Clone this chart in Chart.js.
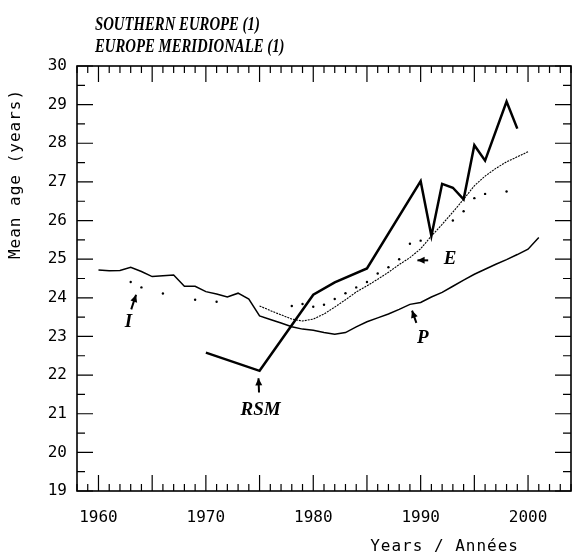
<!DOCTYPE html>
<html>
<head>
<meta charset="utf-8">
<script src="https://cdn.jsdelivr.net/npm/chart.js@4/dist/chart.umd.min.js"></script>
<style>
html, body { margin: 0; padding: 0; background: #fff; }
canvas { display: block; }
</style>
</head>
<body>
<canvas id="grafico" width="575" height="554"></canvas>
<script>
// Titolo e testi degli assi
const titolo = ["SOUTHERN EUROPE (1)", "EUROPE MERIDIONALE (1)"];
const titoloAsseY = "Mean age (years)";
const titoloAsseX = "Years / Années";
const etichetteX = [1960, 1970, 1980, 1990, 2000];

// P
const pAnni = [1960, 1961, 1962, 1963, 1964, 1965, 1966, 1967, 1968, 1969,
    1970, 1971, 1972, 1973, 1974, 1975, 1976, 1977, 1978, 1979,
    1980, 1981, 1982, 1983, 1984, 1985, 1986, 1987, 1988, 1989,
    1990, 1991, 1992, 1993, 1994, 1995, 1996, 1997, 1998, 1999,
    2000, 2001];
const pValori = [24.72, 24.70, 24.71, 24.79, 24.68, 24.55, 24.57, 24.59, 24.30, 24.30,
    24.16, 24.10, 24.02, 24.12, 23.97, 23.53, 23.44, 23.35, 23.25, 23.19,
    23.16, 23.10, 23.06, 23.10, 23.25, 23.38, 23.48, 23.58, 23.70, 23.83,
    23.88, 24.02, 24.14, 24.30, 24.46, 24.61, 24.74, 24.87, 24.99, 25.12,
    25.26, 25.56];

// E
const eAnni = [1975, 1976, 1977, 1978, 1979, 1980, 1981, 1982, 1983, 1984,
    1985, 1986, 1987, 1988, 1989, 1990, 1991, 1992, 1993, 1994,
    1995, 1996, 1997, 1998, 1999, 2000];
const eValori = [23.79, 23.67, 23.56, 23.45, 23.40, 23.45, 23.58, 23.76, 23.95, 24.15,
    24.31, 24.48, 24.66, 24.86, 25.04, 25.27, 25.60, 25.90, 26.22, 26.55,
    26.90, 27.15, 27.35, 27.52, 27.65, 27.78];

// I (punteggiata)
const iAnni = [1963, 1964, 1966, 1969, 1971, 1978, 1979, 1980, 1981, 1982,
    1983, 1984, 1985, 1986, 1987, 1988, 1989, 1990, 1993, 1994,
    1995, 1996, 1998];
const iValori = [24.41, 24.27, 24.11, 23.95, 23.90, 23.79, 23.84, 23.77, 23.82, 23.97,
    24.12, 24.27, 24.41, 24.63, 24.79, 25.00, 25.40, 25.48, 26.00, 26.24,
    26.58, 26.69, 26.75];

// RSM
const rsmAnni = [1970, 1975, 1980, 1982, 1985, 1990, 1991, 1992, 1993, 1994,
    1995, 1996, 1998, 1999];
const rsmValori = [22.58, 22.11, 24.08, 24.40, 24.76, 27.02, 25.60, 26.95, 26.85, 26.55,
    27.95, 27.55, 29.08, 28.38];

const punti = (anni, valori) => anni.map((a, i) => ({ x: a, y: valori[i] }));

// Etichette delle serie con la loro freccetta (coordinate nei valori degli assi)
const etichette = [
    { testo: "I", pos: [1962.8, 23.36], punta: [1963.5, 24.08], coda: [1963.05, 23.70] },
    { testo: "RSM", pos: [1975.1, 21.09], punta: [1974.9, 21.92], coda: [1974.95, 21.55] },
    { testo: "E", pos: [1992.75, 25.0], punta: [1989.7, 24.97], coda: [1990.7, 24.97] },
    { testo: "P", pos: [1990.2, 22.95], punta: [1989.2, 23.67], coda: [1989.6, 23.35] }
];

// Cornice con le tacche rivolte verso l'interno, su tutti e quattro i lati
const cornice = {
    id: "cornice",
    afterDraw(chart) {
        const { ctx, chartArea: { left, right, top, bottom }, scales: { x, y } } = chart;
        ctx.save();
        ctx.strokeStyle = "#000";
        ctx.lineWidth = 1.6;
        ctx.strokeRect(left, top, right - left, bottom - top);
        ctx.lineWidth = 1.2;
        ctx.beginPath();
        for (let a = 1958; a <= 2004; a++) {
            const px = x.getPixelForValue(a);
            const lung = a % 5 === 0 ? 16 : 7;
            ctx.moveTo(px, bottom); ctx.lineTo(px, bottom - lung);
            ctx.moveTo(px, top); ctx.lineTo(px, top + lung);
        }
        for (let v = 19; v <= 30; v += 0.5) {
            const py = y.getPixelForValue(v);
            const lung = Number.isInteger(v) ? 16 : 8;
            ctx.moveTo(left, py); ctx.lineTo(left + lung, py);
            ctx.moveTo(right, py); ctx.lineTo(right - lung, py);
        }
        ctx.stroke();

        // titolo, un po' stretto come nell'originale
        ctx.fillStyle = "#000";
        ctx.font = "italic bold 18px 'Liberation Serif'";
        ctx.textBaseline = "alphabetic";
        ctx.textAlign = "left";
        ctx.save();
        ctx.translate(95, 0);
        ctx.scale(0.82, 1);
        ctx.fillText(titolo[0], 0, 30);
        ctx.fillText(titolo[1], 0, 52);
        ctx.restore();

        ctx.font = "16px 'DejaVu Sans Mono'";
        ctx.letterSpacing = "1px";
        ctx.textAlign = "right";
        ctx.textBaseline = "middle";
        ctx.fillText(titoloAsseX, 519, 547);

        ctx.save();
        ctx.translate(16, 174);
        ctx.rotate(-Math.PI / 2);
        ctx.textAlign = "center";
        ctx.fillText(titoloAsseY, 0, 0);
        ctx.restore();
        ctx.letterSpacing = "0px";

        // etichette e frecce
        ctx.font = "italic bold 19px 'Liberation Serif'";
        ctx.textAlign = "center";
        ctx.textBaseline = "middle";
        etichette.forEach(e => {
            const tx = x.getPixelForValue(e.pos[0]);
            const ty = y.getPixelForValue(e.pos[1]);
            ctx.fillText(e.testo, tx, ty);
            const px = x.getPixelForValue(e.punta[0]);
            const py = y.getPixelForValue(e.punta[1]);
            const cx = x.getPixelForValue(e.coda[0]);
            const cy = y.getPixelForValue(e.coda[1]);
            const ang = Math.atan2(py - cy, px - cx);
            ctx.lineWidth = 2;
            ctx.beginPath();
            ctx.moveTo(cx, cy);
            ctx.lineTo(px, py);
            ctx.stroke();
            ctx.beginPath();
            ctx.moveTo(px, py);
            ctx.lineTo(px - 8 * Math.cos(ang - 0.45), py - 8 * Math.sin(ang - 0.45));
            ctx.lineTo(px - 8 * Math.cos(ang + 0.45), py - 8 * Math.sin(ang + 0.45));
            ctx.closePath();
            ctx.fill();
        });
        ctx.restore();
    }
};

const ctx = document.getElementById("grafico").getContext("2d");
new Chart(ctx, {
    type: "line",
    data: {
        datasets: [
            { label: "P", data: punti(pAnni, pValori), borderColor: "#000", borderWidth: 1.5, pointRadius: 0 },
            { label: "E", data: punti(eAnni, eValori), borderColor: "#000", borderWidth: 1.1,
              borderDash: [2, 1], pointRadius: 0 },
            { label: "I", data: punti(iAnni, iValori), showLine: false, pointRadius: 1.2,
              pointBackgroundColor: "#000", pointBorderWidth: 0 },
            { label: "RSM", data: punti(rsmAnni, rsmValori), borderColor: "#000", borderWidth: 2.5, pointRadius: 0 }
        ]
    },
    options: {
        responsive: false,
        animation: false,
        layout: { padding: { top: 66, right: 3, left: 0, bottom: 0 } },
        plugins: { legend: { display: false }, tooltip: { enabled: false } },
        elements: { line: { tension: 0 } },
        scales: {
            x: {
                type: "linear",
                min: 1958,
                max: 2004,
                afterBuildTicks: s => { s.ticks = etichetteX.map(v => ({ value: v })); },
                afterFit: s => { s.height = 63; },
                grid: { display: false, drawTicks: false },
                border: { display: false },
                ticks: {
                    padding: 17,
                    color: "#000",
                    maxRotation: 0,
                    font: { family: "DejaVu Sans Mono", size: 16 },
                    callback: v => String(v)
                }
            },
            y: {
                min: 19,
                max: 30,
                afterFit: s => { s.width = 77; },
                grid: { display: false, drawTicks: false },
                border: { display: false },
                ticks: {
                    stepSize: 1,
                    padding: 10,
                    color: "#000",
                    font: { family: "DejaVu Sans Mono", size: 16 }
                }
            }
        }
    },
    plugins: [cornice]
});
</script>
</body>
</html>
